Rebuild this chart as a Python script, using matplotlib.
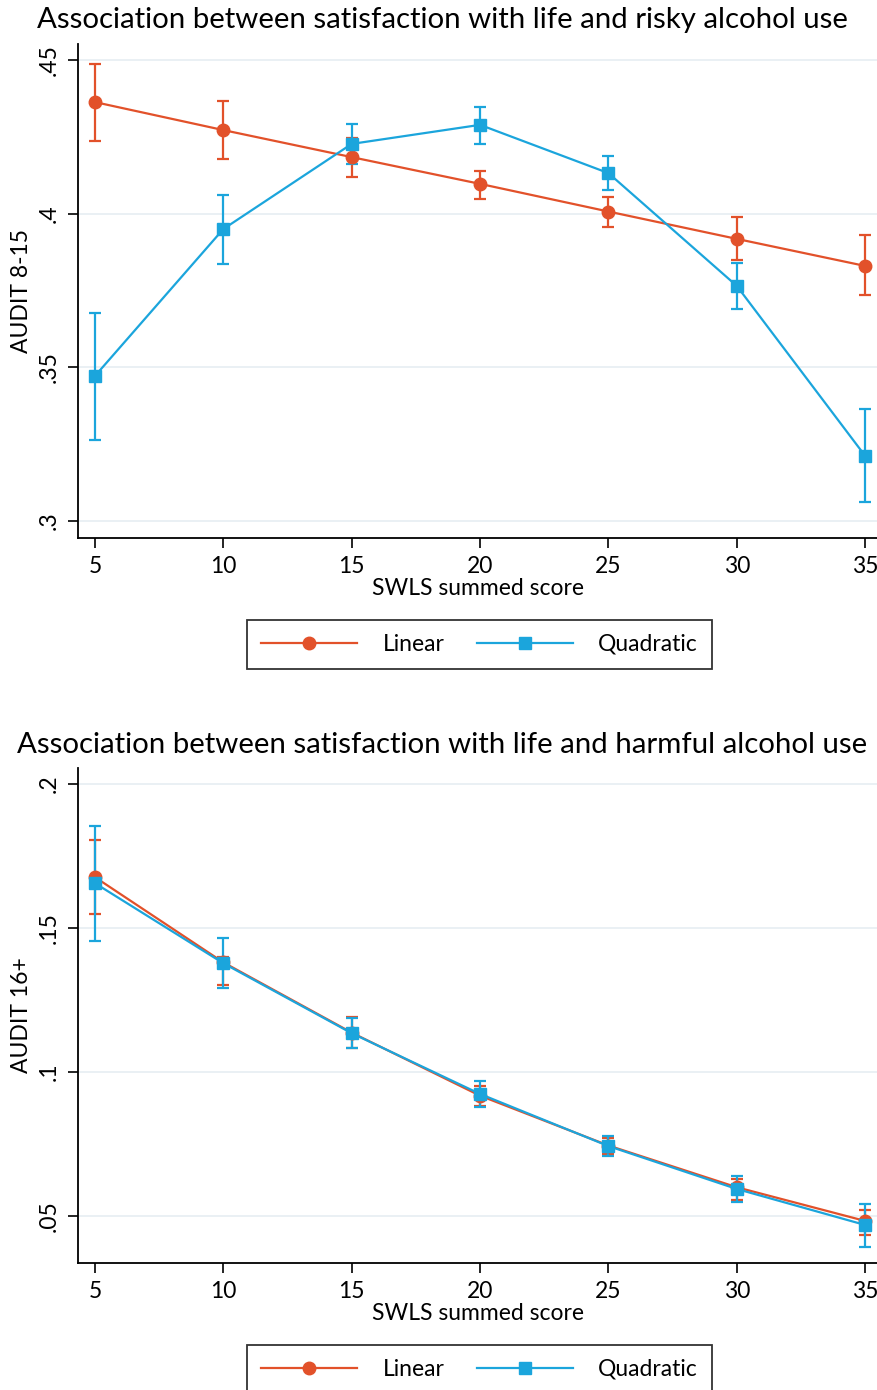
import numpy as np
import matplotlib
matplotlib.use('Agg')
from matplotlib import pyplot as plt

plt.rcParams['font.family'] = ['Lato', 'DejaVu Sans']

# SWLS summed score
swls = [5, 10, 15, 20, 25, 30, 35]

# AUDIT 8-15 (risky use): predicted proportion with 95% CI
risky_lin = [0.4363, 0.4272, 0.4184, 0.4097, 0.4007, 0.3918, 0.3830]
risky_lin_lo = [0.4236, 0.4178, 0.4119, 0.4048, 0.3957, 0.3849, 0.3736]
risky_lin_hi = [0.4487, 0.4367, 0.4245, 0.4139, 0.4055, 0.3989, 0.3931]

risky_quad = [0.3472, 0.3950, 0.4227, 0.4289, 0.4132, 0.3765, 0.3212]
risky_quad_lo = [0.3264, 0.3836, 0.4162, 0.4227, 0.4077, 0.3690, 0.3063]
risky_quad_hi = [0.3677, 0.4061, 0.4292, 0.4347, 0.4188, 0.3840, 0.3365]

# AUDIT 16+ (harmful use)
harm_lin = [0.1677, 0.1381, 0.1137, 0.0918, 0.0745, 0.0600, 0.0483]
harm_lin_lo = [0.1549, 0.1302, 0.1085, 0.0882, 0.0715, 0.0556, 0.0434]
harm_lin_hi = [0.1806, 0.1399, 0.1190, 0.0952, 0.0772, 0.0629, 0.0521]

harm_quad = [0.1656, 0.1378, 0.1135, 0.0924, 0.0743, 0.0594, 0.0469]
harm_quad_lo = [0.1455, 0.1292, 0.1083, 0.0878, 0.0708, 0.0549, 0.0392]
harm_quad_hi = [0.1854, 0.1465, 0.1188, 0.0969, 0.0778, 0.0639, 0.0542]

ORANGE = '#e2512a'
BLUE = '#1ba5dc'
GRID = '#e6eef2'
FS = 16.5

W, H = 878, 1390
fig = plt.figure(figsize=(W / 100, H / 100), dpi=100)


def px_axes(top, bottom, left=78, right=878):
    return fig.add_axes([left / W, 1 - bottom / H, (right - left) / W, (bottom - top) / H])


def draw_panel(ax, lin, lin_lo, lin_hi, quad, quad_lo, quad_hi):
    x = np.array(swls)
    for y, lo, hi, color, marker, ms in [
            (lin, lin_lo, lin_hi, ORANGE, 'o', 9),
            (quad, quad_lo, quad_hi, BLUE, 's', 8.5)]:
        y = np.array(y)
        err = [y - np.array(lo), np.array(hi) - y]
        ax.errorbar(x, y, yerr=err, fmt='none', ecolor=color, elinewidth=1.6,
                    capsize=4.5, capthick=1.6, zorder=3)
        ax.plot(x, y, color=color, lw=1.6, marker=marker, ms=ms,
                mec=color, mfc=color, zorder=4)
    ax.set_xlim(4.34, 35.5)
    ax.set_xticks(swls)
    ax.grid(axis='y', color=GRID, lw=1.2)
    ax.set_axisbelow(True)
    for s in ['top', 'right']:
        ax.spines[s].set_visible(False)
    for s in ['left', 'bottom']:
        ax.spines[s].set_linewidth(1.3)
    ax.tick_params(length=7, width=1.2, labelsize=FS, pad=6)
    ax.set_xlabel('SWLS summed score', fontsize=FS, labelpad=1)


def fmt(v):
    s = ('%.2f' % v).rstrip('0').rstrip('.')
    return s[1:] if s.startswith('0') else s


# risky use
ax1 = px_axes(44, 538)
draw_panel(ax1, risky_lin, risky_lin_lo, risky_lin_hi,
           risky_quad, risky_quad_lo, risky_quad_hi)
ax1.set_ylim(0.2945, 0.4552)
yt = [0.3, 0.35, 0.4, 0.45]
ax1.set_yticks(yt)
ax1.set_yticklabels([fmt(v) for v in yt], rotation=90, va='center')
ax1.set_ylabel('AUDIT 8-15', fontsize=FS, labelpad=5)
fig.text(442 / W, 1 - 20 / H,
         'Association between satisfaction with life and risky alcohol use',
         ha='center', va='center', fontsize=21.2)

# harmful use
ax2 = px_axes(768, 1263)
draw_panel(ax2, harm_lin, harm_lin_lo, harm_lin_hi,
           harm_quad, harm_quad_lo, harm_quad_hi)
ax2.set_ylim(0.0337, 0.2056)
yt = [0.05, 0.1, 0.15, 0.2]
ax2.set_yticks(yt)
ax2.set_yticklabels([fmt(v) for v in yt], rotation=90, va='center')
ax2.set_ylabel('AUDIT 16+', fontsize=FS, labelpad=5)
fig.text(442 / W, 1 - 745 / H,
         'Association between satisfaction with life and harmful alcohol use',
         ha='center', va='center', fontsize=21.2)

for ax, top in [(ax1, 620), (ax2, 1345)]:
    h = [plt.Line2D([], [], color=ORANGE, lw=1.6, marker='o', ms=9),
         plt.Line2D([], [], color=BLUE, lw=1.6, marker='s', ms=8.5)]
    leg = fig.legend(h, ['Linear', 'Quadratic'], ncol=2, loc='upper center',
                     bbox_to_anchor=(479.5 / W, 1 - top / H), fontsize=FS,
                     frameon=True, fancybox=False, edgecolor='black',
                     handlelength=4.2, columnspacing=1.4, handletextpad=1.1,
                     borderpad=0.6, borderaxespad=0)
    leg.get_frame().set_linewidth(1.3)

fig.savefig('out.png', dpi=100)
